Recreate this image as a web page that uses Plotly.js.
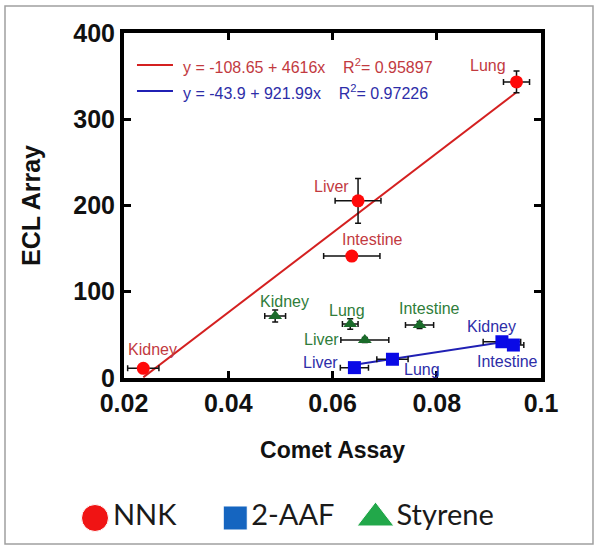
<!DOCTYPE html>
<html>
<head>
<meta charset="utf-8">
<script src="https://cdn.plot.ly/plotly-3.0.1.min.js"></script>
<style>html,body{margin:0;padding:0;background:#fff;}#chart{width:600px;height:552px;}</style>
</head>
<body>
<div id="chart"></div>
<script>
// ---- data ----
const tissues = ["Kidney", "Liver", "Intestine", "Lung"];

const nnkX  = [0.0237, 0.0649, 0.0637, 0.0953];
const nnkY  = [11.2, 205.4, 141.4, 343.3];
const nnkEX = [0.0030, 0.0044, 0.0054, 0.0025];
const nnkEY = [3, 26, 5, 12.5];

const aafX  = [0.0925, 0.0642, 0.0947, 0.0715];
const aafY  = [42.0, 12.0, 38.2, 21.7];
const aafEX = [0.0036, 0.0027, 0.0020, 0.0030];
const aafEY = [3, 3, 3, 3];

const styX  = [0.0490, 0.0662, 0.0767, 0.0634];
const styY  = [71.8, 44.0, 61.4, 62.6];
const styEX = [0.0020, 0.0046, 0.0027, 0.0015];
const styEY = [7, 3, 4, 6];

const nnkFit = {intercept: -108.65, slope: 4616, r2: "0.95897"};
const aafFit = {intercept: -43.9, slope: 921.99, r2: "0.97226"};

const legendNames = ["NNK", "2-AAF", "Styrene"];

const xTicks = [0.02, 0.04, 0.06, 0.08, 0.1];
const yTicks = [0, 100, 200, 300, 400];

// ---- label offsets (pixels) ----
const nnkOff = [[9,19],[-27,14],[21,17],[-29,16]];
const aafOff = [[-10,15],[-34,5],[-6,-16],[30,-10]];
const styOff = [[9,15],[-43,1],[10,17],[-3,13]];

// ---- styles ----
const red = "#ff0a0a", redText = "#c23a3f", redLine = "#d42020";
const blue = "#0a0ae6", blueText = "#2d2da8", blueLine = "#2020b4";
const green = "#1a6b2a", greenText = "#2f7d3a";
const AF = "Liberation Sans, Arial, sans-serif";

function fitLine(xs, fit, color) {
  const lo = Math.min(...xs), hi = Math.max(...xs);
  return {x: [lo, hi], y: [fit.intercept + fit.slope*lo, fit.intercept + fit.slope*hi],
    mode: "lines", line: {color: color, width: 2}, showlegend: false, hoverinfo: "skip"};
}
function pts(xs, ys, ex, ey, sym, size, color) {
  return {x: xs, y: ys, mode: "markers", showlegend: false, cliponaxis: false,
    marker: {symbol: sym, size: size, color: color, opacity: 1},
    error_x: {type: "data", array: ex, color: "#111", thickness: 1.5, width: 3},
    error_y: {type: "data", array: ey, color: "#111", thickness: 1.5, width: 3}};
}

const traces = [
  fitLine(nnkX, nnkFit, redLine),
  fitLine(aafX, aafFit, blueLine),
  pts(nnkX, nnkY, nnkEX, nnkEY, "circle", 13, red),
  pts(styX, styY, styEX, styEY, "triangle-up", 12, green),
  pts(aafX, aafY, aafEX, aafEY, "square", 13, blue),
  {x: [0, 1, 2], y: [0, 0, 0], xaxis: "x2", yaxis: "y2", mode: "markers+text",
   text: legendNames, textposition: "middle right", cliponaxis: false,
   textfont: {family: "Lato, Open Sans, sans-serif", size: 29, color: "#1a1a1a"},
   marker: {symbol: ["circle", "square", "triangle-up"], size: [27, 24, 32], opacity: 1,
            color: ["#f01414", "#1565c0", "#22a84a"]},
   showlegend: false, hoverinfo: "skip"}
];

const annotations = [];
function addLabels(xs, ys, off, color) {
  xs.forEach((x, i) => annotations.push({x: x, y: ys[i], xref: "x", yref: "y", text: tissues[i],
    showarrow: false, xshift: off[i][0], yshift: off[i][1],
    font: {family: AF, size: 16, color: color}}));
}
addLabels(nnkX, nnkY, nnkOff, redText);
addLabels(aafX, aafY, aafOff, blueText);
addLabels(styX, styY, styOff, greenText);

function eqText(fit) {
  const sign = fit.intercept < 0 ? "-" : "+";
  return "y = " + sign + Math.abs(fit.intercept) + " + " + fit.slope + "x\u00a0\u00a0\u00a0\u00a0R<sup>2</sup>= " + fit.r2;
}
annotations.push({xref: "paper", yref: "paper", x: 0.2983, y: 0.9354, xanchor: "left", yanchor: "middle",
  showarrow: false, text: eqText(nnkFit), font: {family: AF, size: 16, color: redText}});
annotations.push({xref: "paper", yref: "paper", x: 0.2983, y: 0.8845, xanchor: "left", yanchor: "middle",
  showarrow: false, text: eqText(aafFit), font: {family: AF, size: 16, color: blueText}});

const shapes = [
  {type: "line", xref: "paper", yref: "paper", x0: 0.2237, x1: 0.2847, y0: 0.9374, y1: 0.9374,
   line: {color: redLine, width: 2}},
  {type: "line", xref: "paper", yref: "paper", x0: 0.2237, x1: 0.2847, y0: 0.8865, y1: 0.8865,
   line: {color: blueLine, width: 2}},
  {type: "rect", xref: "paper", yref: "paper", x0: 0, x1: 0.9966, y0: 0, y1: 1.0528,
   line: {color: "#a0a0a0", width: 1.5}, fillcolor: "rgba(0,0,0,0)", layer: "below"}
];

const tickFont = {family: AF, size: 25, color: "#111", weight: "bold"};
const layout = {
  width: 600, height: 552,
  margin: {l: 5, r: 5, t: 33, b: 8},
  paper_bgcolor: "#fff", plot_bgcolor: "#fff",
  showlegend: false,
  xaxis: {domain: [0.2017, 0.9085], range: [0.02, 0.1], tickvals: xTicks, ticktext: xTicks.map(String),
    showgrid: false, zeroline: false, showline: true, linewidth: 4, linecolor: "#000", mirror: "ticks",
    ticks: "inside", ticklen: 7, tickwidth: 3, tickcolor: "#000", tickfont: tickFont,
    title: {text: "Comet Assay", font: {family: AF, size: 23, color: "#111", weight: "bold"}, standoff: 27}},
  yaxis: {domain: [0.3249, 1], range: [0, 400], tickvals: yTicks,
    showgrid: false, zeroline: false, showline: true, linewidth: 4, linecolor: "#000", mirror: "ticks",
    ticks: "inside", ticklen: 7, tickwidth: 3, tickcolor: "#000", tickfont: tickFont,
    title: {text: "ECL Array", font: {family: AF, size: 25, color: "#111", weight: "bold"}, standoff: 27}},
  xaxis2: {domain: [0, 1], range: [-0.6417, 3.565], visible: false, fixedrange: true},
  yaxis2: {domain: [0, 0.1018], range: [-1, 1], visible: false, fixedrange: true},
  annotations: annotations,
  shapes: shapes
};

Plotly.newPlot("chart", traces, layout, {displayModeBar: false, staticPlot: true});
</script>
</body>
</html>
